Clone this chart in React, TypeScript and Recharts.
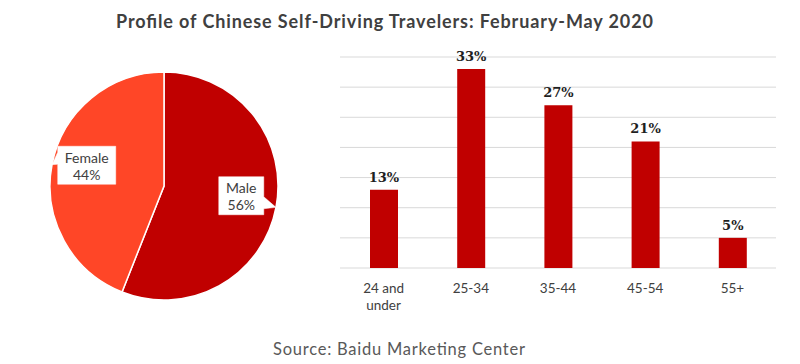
import React from 'react';
import { PieChart, Pie, Cell, BarChart, Bar, XAxis, YAxis, CartesianGrid, LabelList } from 'recharts';

const genderNames = ['Male', 'Female'];
const genderValues = [56, 44];
const genderColors = ['#C00000', '#FF4627'];

const ageGroups = ['24 and\nunder', '25-34', '35-44', '45-54', '55+'];
const ageValues = [13, 33, 27, 21, 5];
const yTicks = [0, 5, 10, 15, 20, 25, 30, 35];

const TITLE = 'Profile of Chinese Self-Driving Travelers: February-May 2020';
const SOURCE = 'Source: Baidu Marketing Center';

const RAD = Math.PI / 180;
const labelFont = 'Lato, "Open Sans", sans-serif';
const valueFont = "'DejaVu Serif', serif";

const pieData = genderNames.map((name, i) => ({ name, value: genderValues[i] }));
const barData = ageGroups.map((group, i) => ({ group, value: ageValues[i] }));

// callout box with a small pointer towards the slice edge
const PieCallout = (props: any) => {
  const { cx, cy, midAngle, outerRadius, name, value } = props;
  const cos = Math.cos(-midAngle * RAD);
  const sin = Math.sin(-midAngle * RAD);
  const bx = cx + outerRadius * 0.69 * cos;
  const by = cy + outerRadius * 0.69 * sin + (sin < 0 ? -6 : -5);
  const tx = cx + outerRadius * cos;
  const ty = cy + outerRadius * sin;
  const w = name.length * 6.5 + 19;
  const h = 38;
  const left = bx - w / 2;
  const right = bx + w / 2;
  const edge = tx < bx ? left : right;
  const baseMid = by + (ty > by ? 7 : -7);
  const path = [
    `M${left},${by - h / 2}`,
    `L${right},${by - h / 2}`,
    ...(edge === right
      ? [`L${right},${baseMid - 6}`, `L${tx},${ty}`, `L${right},${baseMid + 6}`]
      : []),
    `L${right},${by + h / 2}`,
    `L${left},${by + h / 2}`,
    ...(edge === left
      ? [`L${left},${baseMid + 6}`, `L${tx},${ty}`, `L${left},${baseMid - 6}`]
      : []),
    'Z',
  ].join(' ');
  return (
    <g>
      <path d={path} fill="#ffffff" stroke="#ffffff" strokeWidth={0.5} />
      <text x={bx} y={by - 2.5} textAnchor="middle" fontSize={14} fill="#404040" fontFamily={labelFont}>
        {name}
      </text>
      <text x={bx} y={by + 14.5} textAnchor="middle" fontSize={14} fill="#404040" fontFamily={labelFont}>
        {`${value}%`}
      </text>
    </g>
  );
};

const AgeTick = (props: any) => {
  const { x, y, payload } = props;
  const lines = String(payload.value).split('\n');
  return (
    <g>
      {lines.map((line, i) => (
        <text
          key={i}
          x={x}
          y={y + 17 + i * 16.5}
          textAnchor="middle"
          fontSize={13.5}
          fill="#404040"
          fontFamily={labelFont}
        >
          {line}
        </text>
      ))}
    </g>
  );
};

const ValueLabel = (props: any) => {
  const { x, y, width, value } = props;
  return (
    <text
      x={x + width / 2}
      y={y - 8}
      textAnchor="middle"
      fill="#1f1f1f"
      style={{ fontFamily: valueFont, fontSize: 13, fontWeight: 600 }}
    >
      {`${value}%`}
    </text>
  );
};

const App = () => {
  return (
    <div style={{ position: 'absolute', left: 0, top: 0, width: 800, height: 364, background: '#ffffff' }}>
      <svg width={800} height={364} style={{ position: 'absolute', left: 0, top: 0 }}>
        <text
          x={384.5}
          y={27.5}
          textAnchor="middle"
          fontSize={18}
          fontWeight="bold"
          fill="#404040"
          fontFamily={labelFont}
          textLength={537}
          lengthAdjust="spacing"
        >
          {TITLE}
        </text>
        <text
          x={399}
          y={355}
          textAnchor="middle"
          fontSize={16.5}
          fill="#595959"
          fontFamily={labelFont}
          textLength={252}
          lengthAdjust="spacing"
        >
          {SOURCE}
        </text>
      </svg>

      <div style={{ position: 'absolute', left: 0, top: 0 }}>
        <PieChart width={330} height={364} margin={{ top: 0, right: 0, bottom: 0, left: 0 }}>
          <Pie
            data={pieData}
            dataKey="value"
            nameKey="name"
            cx={164}
            cy={186}
            outerRadius={114}
            startAngle={90}
            endAngle={-270}
            stroke="#ffffff"
            strokeWidth={1.5}
            label={PieCallout}
            labelLine={false}
            isAnimationActive={false}
          >
            {pieData.map((d, i) => (
              <Cell key={d.name} fill={genderColors[i]} />
            ))}
          </Pie>
        </PieChart>
      </div>

      <div style={{ position: 'absolute', left: 330, top: 0 }}>
        <BarChart
          width={470}
          height={364}
          data={barData}
          margin={{ top: 57, right: 24, bottom: 56, left: 10 }}
          barSize={28}
        >
          <CartesianGrid vertical={false} stroke="#d9d9d9" strokeWidth={1} />
          <XAxis
            dataKey="group"
            axisLine={false}
            tickLine={false}
            height={40}
            interval={0}
            tick={<AgeTick />}
          />
          <YAxis hide domain={[0, 35]} ticks={yTicks} />
          <Bar dataKey="value" fill="#C00000" isAnimationActive={false}>
            <LabelList dataKey="value" content={<ValueLabel />} />
          </Bar>
        </BarChart>
      </div>
    </div>
  );
};

export default App;
